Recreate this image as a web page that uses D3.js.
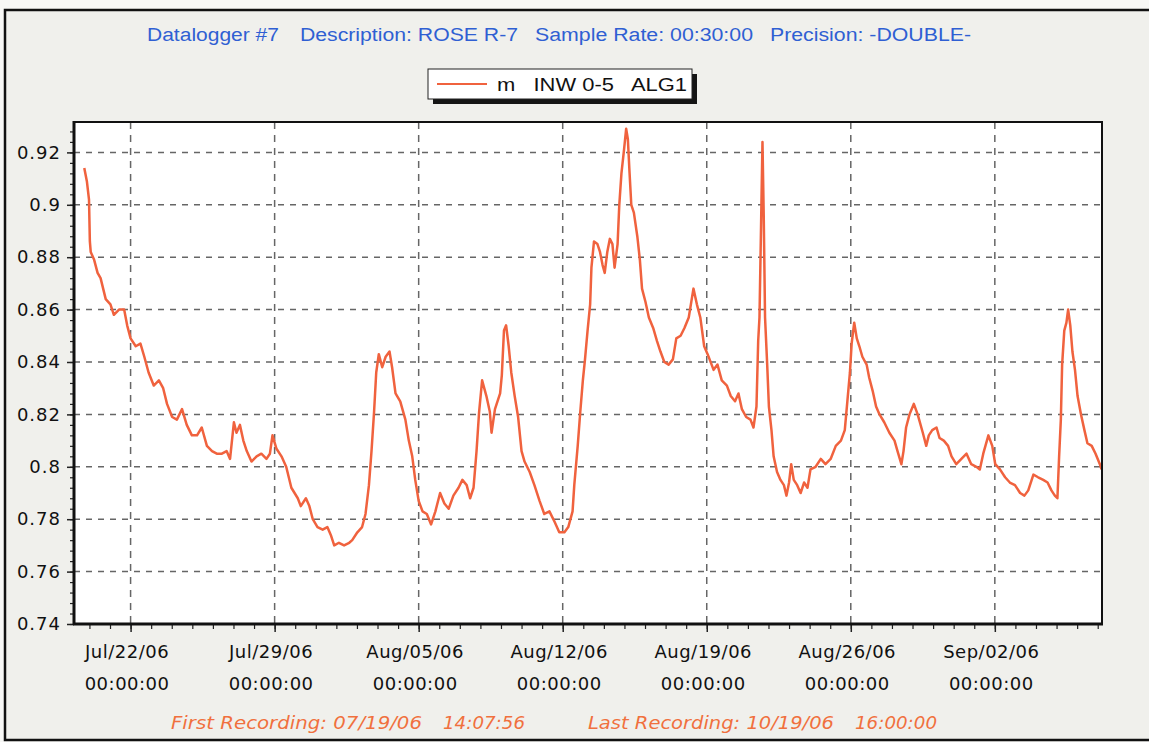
<!DOCTYPE html>
<html><head><meta charset="utf-8">
<script src="https://cdn.jsdelivr.net/npm/d3@7"></script>
<style>
html,body{margin:0;padding:0;background:#f7f7f5;}
svg{display:block;}
</style></head><body>
<svg id="chart" width="1149" height="742"></svg>
<script>
// ---------------- data ----------------
const titleParts = ["Datalogger #7", "Description: ROSE R-7", "Sample Rate: 00:30:00", "Precision: -DOUBLE-"];
const legendLabel = "m   INW 0-5   ALG1";
const footerParts = ["First Recording: 07/19/06", "14:07:56", "Last Recording: 10/19/06", "16:00:00"];
const yTicks = [0.74, 0.76, 0.78, 0.80, 0.82, 0.84, 0.86, 0.88, 0.90, 0.92];
const yDomain = [0.74, 0.9316];
const xDomain = ["2006-07-19 06:00", "2006-09-07 05:00"];
const xTickDates = ["2006-07-22 00:00", "2006-07-29 00:00", "2006-08-05 00:00", "2006-08-12 00:00",
                    "2006-08-19 00:00", "2006-08-26 00:00", "2006-09-02 00:00"];
const times = [
"2006-07-19 18:00","2006-07-19 21:00","2006-07-19 23:30","2006-07-20 00:30","2006-07-20 01:30","2006-07-20 05:30",
"2006-07-20 09:30","2006-07-20 13:00","2006-07-20 19:00","2006-07-21 00:30","2006-07-21 04:30","2006-07-21 10:30",
"2006-07-21 16:30","2006-07-21 20:00","2006-07-22 00:00","2006-07-22 06:00","2006-07-22 11:30","2006-07-22 16:00",
"2006-07-22 21:00","2006-07-23 03:00","2006-07-23 09:00","2006-07-23 14:00","2006-07-23 18:30","2006-07-24 00:30",
"2006-07-24 06:00","2006-07-24 12:00","2006-07-24 17:30","2006-07-24 23:30","2006-07-25 05:30","2006-07-25 11:00",
"2006-07-25 17:00","2006-07-25 23:00","2006-07-26 04:30","2006-07-26 10:30","2006-07-26 16:00","2006-07-26 20:00",
"2006-07-27 00:30","2006-07-27 03:30","2006-07-27 07:30","2006-07-27 11:30","2006-07-27 15:30","2006-07-27 21:00",
"2006-07-28 03:00","2006-07-28 08:30","2006-07-28 14:30","2006-07-28 18:30","2006-07-28 21:30","2006-07-29 02:00",
"2006-07-29 08:00","2006-07-29 13:30","2006-07-29 19:30","2006-07-30 03:00","2006-07-30 06:30","2006-07-30 12:30",
"2006-07-30 16:30","2006-07-30 20:30","2006-07-31 02:00","2006-07-31 08:00","2006-07-31 13:30","2006-07-31 17:30",
"2006-07-31 21:30","2006-08-01 03:00","2006-08-01 09:00","2006-08-01 15:00","2006-08-01 18:30","2006-08-02 00:30",
"2006-08-02 06:00","2006-08-02 10:00","2006-08-02 14:00","2006-08-02 17:00","2006-08-02 20:00","2006-08-02 22:30",
"2006-08-03 01:30","2006-08-03 05:30","2006-08-03 09:30","2006-08-03 14:00","2006-08-03 17:00","2006-08-03 21:00",
"2006-08-04 02:30","2006-08-04 08:30","2006-08-04 12:30","2006-08-04 16:30","2006-08-04 20:00","2006-08-05 00:00",
"2006-08-05 04:30","2006-08-05 09:30","2006-08-05 14:30","2006-08-05 19:30","2006-08-06 01:00","2006-08-06 06:00",
"2006-08-06 11:00","2006-08-06 16:30","2006-08-06 22:30","2006-08-07 03:00","2006-08-07 08:00","2006-08-07 12:00",
"2006-08-07 16:00","2006-08-07 19:30","2006-08-07 22:30","2006-08-08 02:00","2006-08-08 07:00","2006-08-08 11:00",
"2006-08-08 13:00","2006-08-08 17:00","2006-08-08 23:00","2006-08-09 01:00","2006-08-09 03:30","2006-08-09 06:00",
"2006-08-09 09:00","2006-08-09 12:00","2006-08-09 16:00","2006-08-09 20:00","2006-08-10 00:00","2006-08-10 03:30",
"2006-08-10 09:30","2006-08-10 15:00","2006-08-10 21:00","2006-08-11 02:30","2006-08-11 08:30","2006-08-11 14:30",
"2006-08-11 20:00","2006-08-12 02:00","2006-08-12 06:30","2006-08-12 11:30","2006-08-12 13:30","2006-08-12 17:30",
"2006-08-12 20:30","2006-08-12 23:30","2006-08-13 02:00","2006-08-13 05:00","2006-08-13 08:00","2006-08-13 09:30",
"2006-08-13 12:30","2006-08-13 16:30","2006-08-13 19:30","2006-08-13 22:30","2006-08-14 01:00","2006-08-14 04:00",
"2006-08-14 07:00","2006-08-14 10:00","2006-08-14 12:30","2006-08-14 16:00","2006-08-14 18:00","2006-08-14 20:30",
"2006-08-14 23:30","2006-08-15 02:00","2006-08-15 04:00","2006-08-15 06:00","2006-08-15 08:00","2006-08-15 11:00",
"2006-08-15 15:00","2006-08-15 18:00","2006-08-15 20:30","2006-08-16 00:30","2006-08-16 04:30","2006-08-16 09:30",
"2006-08-16 14:00","2006-08-16 18:00","2006-08-16 22:30","2006-08-17 03:30","2006-08-17 08:30","2006-08-17 12:30",
"2006-08-17 17:30","2006-08-17 22:00","2006-08-18 03:00","2006-08-18 08:30","2006-08-18 12:30","2006-08-18 16:30",
"2006-08-18 21:00","2006-08-19 01:00","2006-08-19 08:00","2006-08-19 12:30","2006-08-19 17:30","2006-08-19 23:30",
"2006-08-20 04:00","2006-08-20 09:00","2006-08-20 13:00","2006-08-20 17:00","2006-08-20 22:00","2006-08-21 03:00",
"2006-08-21 06:30","2006-08-21 10:00","2006-08-21 12:00","2006-08-21 13:30","2006-08-21 15:30","2006-08-21 17:00",
"2006-08-21 18:30","2006-08-21 20:00","2006-08-21 22:30","2006-08-22 00:30","2006-08-22 03:30","2006-08-22 06:00",
"2006-08-22 10:00","2006-08-22 14:00","2006-08-22 18:00","2006-08-22 21:00","2006-08-23 00:00","2006-08-23 02:30",
"2006-08-23 05:30","2006-08-23 09:30","2006-08-23 13:30","2006-08-23 17:30","2006-08-23 21:30","2006-08-24 01:00",
"2006-08-24 07:00","2006-08-24 13:00","2006-08-24 18:30","2006-08-25 00:30","2006-08-25 06:30","2006-08-25 12:30",
"2006-08-25 17:00","2006-08-25 20:00","2006-08-25 23:00","2006-08-26 01:00","2006-08-26 04:00","2006-08-26 07:00",
"2006-08-26 10:00","2006-08-26 13:30","2006-08-26 18:30","2006-08-26 21:30","2006-08-27 01:30","2006-08-27 05:30",
"2006-08-27 09:30","2006-08-27 15:00","2006-08-27 21:00","2006-08-28 03:00","2006-08-28 06:30","2006-08-28 11:00",
"2006-08-28 13:30","2006-08-28 16:30","2006-08-28 20:30","2006-08-29 01:30","2006-08-29 06:00","2006-08-29 12:00",
"2006-08-29 16:00","2006-08-29 19:00","2006-08-29 23:00","2006-08-30 04:00","2006-08-30 07:30","2006-08-30 12:30",
"2006-08-30 17:30","2006-08-30 21:30","2006-08-31 03:00","2006-08-31 09:00","2006-08-31 15:00","2006-08-31 20:30",
"2006-09-01 02:30","2006-09-01 06:30","2006-09-01 10:30","2006-09-01 16:30","2006-09-01 21:00","2006-09-02 00:30",
"2006-09-02 06:00","2006-09-02 12:00","2006-09-02 17:30","2006-09-02 23:30","2006-09-03 05:30","2006-09-03 10:30",
"2006-09-03 15:00","2006-09-03 21:00","2006-09-04 02:30","2006-09-04 08:30","2006-09-04 13:30","2006-09-04 18:00",
"2006-09-04 22:00","2006-09-05 01:00","2006-09-05 03:00","2006-09-05 05:00","2006-09-05 06:30","2006-09-05 09:00",
"2006-09-05 11:30","2006-09-05 13:30","2006-09-05 16:00","2006-09-05 18:30","2006-09-05 21:30","2006-09-06 00:30",
"2006-09-06 04:30","2006-09-06 08:30","2006-09-06 12:00","2006-09-06 17:00","2006-09-06 21:30","2006-09-07 02:30",
"2006-09-07 04:30"];
const values = [
0.914,0.909,0.902,0.886,0.882,0.879,
0.874,0.872,0.864,0.862,0.858,0.860,
0.860,0.854,0.849,0.846,0.847,0.842,
0.836,0.831,0.833,0.830,0.824,0.819,
0.818,0.822,0.816,0.812,0.812,0.815,
0.808,0.806,0.805,0.805,0.806,0.803,
0.817,0.813,0.816,0.810,0.806,0.802,
0.804,0.805,0.803,0.805,0.812,0.807,
0.804,0.800,0.792,0.788,0.785,0.788,
0.785,0.780,0.777,0.776,0.777,0.774,
0.770,0.771,0.770,0.771,0.772,0.775,
0.777,0.782,0.793,0.806,0.821,0.836,
0.843,0.838,0.842,0.844,0.838,0.828,
0.825,0.818,0.810,0.804,0.795,0.787,
0.783,0.782,0.778,0.783,0.790,0.786,
0.784,0.789,0.792,0.795,0.793,0.788,
0.792,0.806,0.821,0.833,0.827,0.821,
0.813,0.822,0.828,0.835,0.852,0.854,
0.846,0.836,0.827,0.819,0.806,0.802,
0.798,0.793,0.787,0.782,0.783,0.779,
0.775,0.775,0.777,0.783,0.793,0.808,
0.821,0.833,0.841,0.852,0.862,0.876,
0.886,0.885,0.882,0.877,0.874,0.882,
0.887,0.885,0.876,0.885,0.900,0.912,
0.921,0.929,0.925,0.912,0.900,0.897,
0.888,0.879,0.868,0.863,0.857,0.853,
0.848,0.844,0.840,0.839,0.841,0.849,
0.850,0.853,0.857,0.868,0.862,0.857,
0.846,0.843,0.837,0.839,0.833,0.831,
0.827,0.825,0.828,0.822,0.819,0.818,
0.815,0.823,0.848,0.857,0.895,0.924,
0.895,0.857,0.839,0.823,0.814,0.804,
0.798,0.795,0.793,0.789,0.794,0.801,
0.795,0.793,0.790,0.794,0.792,0.799,
0.800,0.803,0.801,0.803,0.808,0.810,
0.814,0.825,0.836,0.847,0.855,0.849,
0.846,0.842,0.839,0.834,0.829,0.823,
0.820,0.817,0.813,0.810,0.806,0.801,
0.806,0.815,0.820,0.824,0.820,0.813,
0.808,0.812,0.814,0.815,0.811,0.810,
0.808,0.804,0.801,0.803,0.805,0.801,
0.800,0.799,0.805,0.812,0.808,0.801,
0.799,0.796,0.794,0.793,0.790,0.789,
0.791,0.797,0.796,0.795,0.794,0.791,
0.789,0.788,0.804,0.818,0.839,0.852,
0.855,0.860,0.854,0.844,0.837,0.827,
0.820,0.814,0.809,0.808,0.805,0.801,
0.799];

// ---------------- layout ----------------
const W = 1149, H = 742;
const plot = {left: 74, right: 1102, top: 122, bottom: 624};
const lineColor = "#f0623e";
const titleColor = "#2f5fd3";
const footColor = "#f0703e";
const gridColor = "#666";

const parse = d3.timeParse("%Y-%m-%d %H:%M");
const data = times.map((t, i) => ({t: parse(t), v: values[i]}));

const svg = d3.select("#chart");

// page background (scanned paper) and outer frame
svg.append("rect").attr("x", 0).attr("y", 0).attr("width", W).attr("height", H).attr("fill", "#f7f7f5");
svg.append("rect").attr("x", 5).attr("y", 10).attr("width", W + 10).attr("height", 730)
  .attr("fill", "#f0f0ec").attr("stroke", "#111").attr("stroke-width", 2.5);

const x = d3.scaleTime().domain(xDomain.map(parse)).range([plot.left, plot.right]);
const y = d3.scaleLinear().domain(yDomain).range([plot.bottom, plot.top]);

// plot background
svg.append("rect").attr("x", plot.left).attr("y", plot.top)
  .attr("width", plot.right - plot.left).attr("height", plot.bottom - plot.top).attr("fill", "#ffffff");

const majorX = xTickDates.map(parse);

// grid
const grid = svg.append("g").attr("stroke", gridColor).attr("stroke-width", 1.5).attr("stroke-dasharray", "6,6");
grid.selectAll(".hg").data(yTicks.filter(v => v > yDomain[0])).join("line")
  .attr("x1", plot.left).attr("x2", plot.right).attr("y1", d => y(d)).attr("y2", d => y(d));
grid.selectAll(".vg").data(majorX).join("line")
  .attr("y1", plot.top).attr("y2", plot.bottom).attr("x1", d => x(d)).attr("x2", d => x(d))
  .attr("stroke-dasharray", "7,6");

// line
svg.append("clipPath").attr("id", "clip").append("rect")
  .attr("x", plot.left).attr("y", plot.top).attr("width", plot.right - plot.left).attr("height", plot.bottom - plot.top);
const line = d3.line().x(d => x(d.t)).y(d => y(d.v));
svg.append("path").datum(data).attr("clip-path", "url(#clip)")
  .attr("fill", "none").attr("stroke", lineColor).attr("stroke-width", 2.5)
  .attr("stroke-linejoin", "round").attr("d", line);

// plot frame
svg.append("rect").attr("x", plot.left).attr("y", plot.top)
  .attr("width", plot.right - plot.left).attr("height", plot.bottom - plot.top)
  .attr("fill", "none").attr("stroke", "#111").attr("stroke-width", 2);

// y axis: minor ticks
const yMinor = d3.range(0.74, 0.9316, 0.004);
const yMinorAxis = d3.axisLeft(y).tickValues(yMinor).tickSize(4).tickFormat("");
const gYm = svg.append("g").attr("transform", `translate(${plot.left},0)`).call(yMinorAxis);
gYm.select(".domain").remove();
gYm.selectAll("line").attr("stroke", "#222").attr("stroke-width", 1.2);

// y axis: major
const yAxis = d3.axisLeft(y).tickValues(yTicks).tickSize(7).tickPadding(6).tickFormat(d3.format(".2~f"));
const gY = svg.append("g").attr("transform", `translate(${plot.left},0)`).call(yAxis);
gY.select(".domain").remove();
gY.selectAll("line").attr("stroke", "#222").attr("stroke-width", 1.5);
gY.selectAll("text").attr("font-family", "'DejaVu Sans', sans-serif").attr("font-size", 18)
  .attr("letter-spacing", 1).attr("fill", "#111");

// x axis: minor (daily)
const xMinorAxis = d3.axisBottom(x).ticks(d3.timeDay.every(1)).tickSize(5).tickFormat("");
const gXm = svg.append("g").attr("transform", `translate(0,${plot.bottom})`).call(xMinorAxis);
gXm.select(".domain").remove();
gXm.selectAll("line").attr("stroke", "#222").attr("stroke-width", 1.2);

// x axis: major (weekly)
const fmtDate = d3.timeFormat("%b/%d/%y");
const fmtTime = d3.timeFormat("%H:%M:%S");
const xAxis = d3.axisBottom(x).tickValues(majorX).tickSize(8).tickPadding(16).tickFormat(fmtDate);
const gX = svg.append("g").attr("transform", `translate(0,${plot.bottom})`).call(xAxis);
gX.select(".domain").remove();
gX.selectAll("line").attr("stroke", "#222").attr("stroke-width", 1.5);
gX.selectAll(".tick text").each(function(d) {
  const t = d3.select(this);
  t.text(null).attr("dy", null).attr("y", 34)
    .attr("font-family", "'DejaVu Sans', sans-serif").attr("font-size", 18)
    .attr("letter-spacing", 0.5).attr("fill", "#111");
  t.append("tspan").attr("x", -4).attr("y", 34).text(fmtDate(d));
  t.append("tspan").attr("x", -4).attr("y", 66).text(fmtTime(d));
});

// thicker left & bottom axis lines
svg.append("line").attr("x1", plot.left).attr("x2", plot.left).attr("y1", plot.top - 1).attr("y2", plot.bottom + 1)
  .attr("stroke", "#111").attr("stroke-width", 3);
svg.append("line").attr("x1", plot.left - 1).attr("x2", plot.right + 1).attr("y1", plot.bottom).attr("y2", plot.bottom)
  .attr("stroke", "#111").attr("stroke-width", 3);

// title
const titlePos = [[147, 132], [300, 218], [535, 218], [770, 201]];
svg.append("g").selectAll("text").data(titleParts).join("text")
  .attr("x", (d, i) => titlePos[i][0]).attr("y", 41)
  .attr("textLength", (d, i) => titlePos[i][1]).attr("lengthAdjust", "spacingAndGlyphs")
  .attr("font-family", "'Liberation Sans', Arial, sans-serif").attr("font-size", 18)
  .attr("fill", titleColor).text(d => d);

// legend
const lg = svg.append("g");
lg.append("rect").attr("x", 433).attr("y", 74).attr("width", 264).attr("height", 30).attr("fill", "#151515");
lg.append("rect").attr("x", 428).attr("y", 69).attr("width", 264).attr("height", 30)
  .attr("fill", "#ffffff").attr("stroke", "#222").attr("stroke-width", 1);
lg.append("line").attr("x1", 437).attr("x2", 487).attr("y1", 84).attr("y2", 84)
  .attr("stroke", lineColor).attr("stroke-width", 2);
lg.append("text").attr("x", 497).attr("y", 91).attr("textLength", 190).attr("lengthAdjust", "spacingAndGlyphs")
  .style("white-space", "pre")
  .attr("font-family", "'Liberation Sans', Arial, sans-serif").attr("font-size", 18).attr("fill", "#111")
  .text(legendLabel);

// footer
const footPos = [[171, 251], [443, 82], [588, 246], [855, 82]];
svg.append("g").selectAll("text").data(footerParts).join("text")
  .attr("x", (d, i) => footPos[i][0]).attr("y", 729)
  .attr("textLength", (d, i) => footPos[i][1]).attr("lengthAdjust", "spacingAndGlyphs")
  .attr("font-family", "'DejaVu Sans', sans-serif").attr("font-style", "italic").attr("font-size", 18)
  .attr("fill", footColor).text(d => d);
</script>
</body></html>
